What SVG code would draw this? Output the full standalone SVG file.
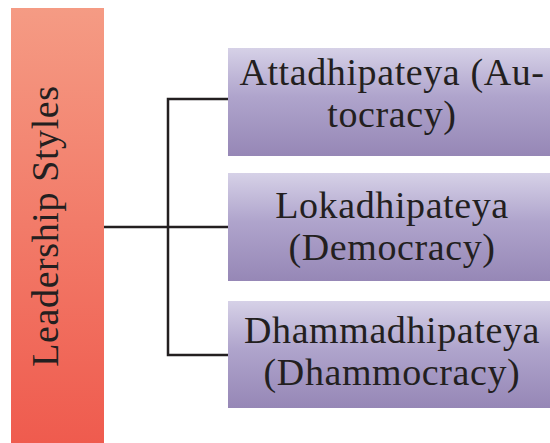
<svg xmlns="http://www.w3.org/2000/svg" width="550" height="443" viewBox="0 0 550 443">
  <defs>
    <linearGradient id="gradRoot" x1="0" y1="0" x2="0" y2="1">
      <stop offset="0" stop-color="#f59b84"/>
      <stop offset="1" stop-color="#ef5b4e"/>
    </linearGradient>
    <linearGradient id="gradLeaf" x1="0" y1="0" x2="0" y2="1">
      <stop offset="0" stop-color="#d6d1e7"/>
      <stop offset="0.45" stop-color="#afa4cc"/>
      <stop offset="1" stop-color="#9687b6"/>
    </linearGradient>
  </defs>
  <style>
    .label { font-family: "Liberation Serif", "Times New Roman", serif; font-size: 38px; letter-spacing: 0.6px; fill: #231f20; text-anchor: middle; }
    .leaf { fill: url(#gradLeaf); }
    .wire { fill: none; stroke: #231f20; stroke-width: 2.5; }
  </style>

  <g id="connectors">
    <path class="wire" d="M104 227 H228"/>
    <path class="wire" d="M228 99 H168 V355 H228"/>
  </g>

  <g id="leadership-styles">
    <rect x="11" y="8" width="93" height="435" fill="url(#gradRoot)"/>
    <text class="label" transform="translate(58 226) rotate(-90)">Leadership Styles</text>
  </g>

  <g id="attadhipateya">
    <rect class="leaf" x="228" y="48" width="322" height="108"/>
    <text class="label" x="392" y="85">Attadhipateya (Au-</text>
    <text class="label" x="392" y="127">tocracy)</text>
  </g>

  <g id="lokadhipateya">
    <rect class="leaf" x="228" y="173" width="322" height="108"/>
    <text class="label" x="392" y="218">Lokadhipateya</text>
    <text class="label" x="392" y="260">(Democracy)</text>
  </g>

  <g id="dhammadhipateya">
    <rect class="leaf" x="228" y="301" width="322" height="107"/>
    <text class="label" x="392" y="343">Dhammadhipateya</text>
    <text class="label" x="392" y="385">(Dhammocracy)</text>
  </g>
</svg>
